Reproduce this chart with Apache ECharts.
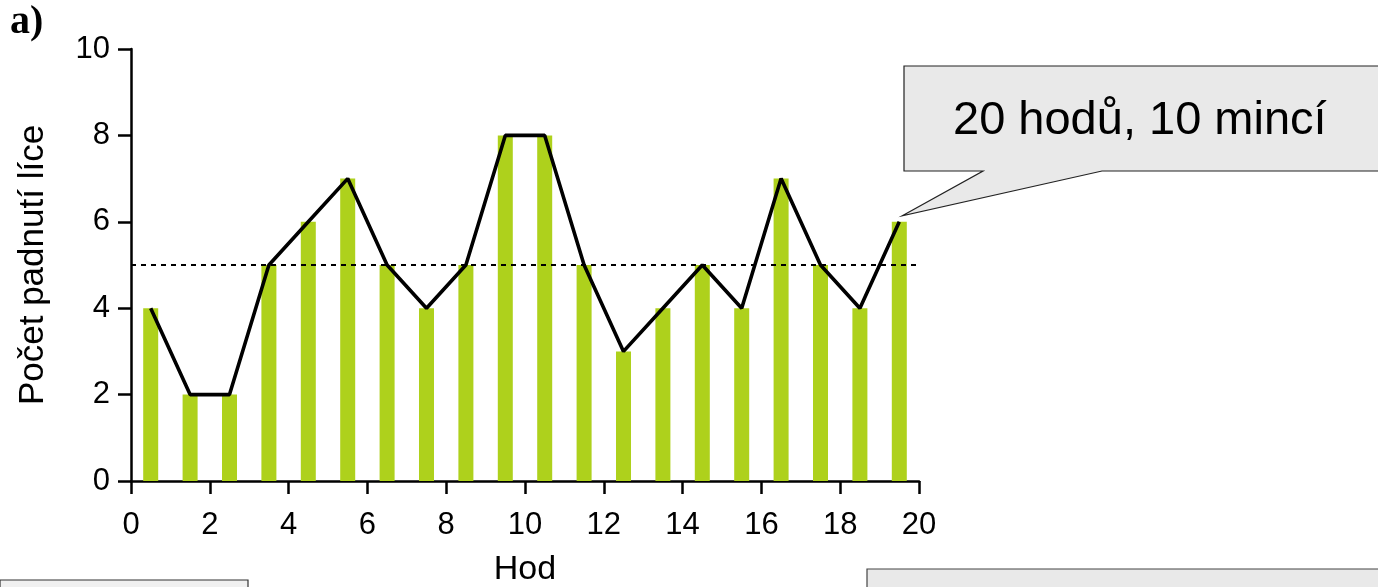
<!DOCTYPE html>
<html>
<head>
<meta charset="utf-8">
<script src="https://cdn.jsdelivr.net/npm/echarts@6/dist/echarts.min.js"></script>
<style>
html,body{margin:0;padding:0;background:#ffffff;}
#c{width:1378px;height:587px;}
</style>
</head>
<body>
<div id="c"></div>
<script>
// Data
const throwPositions = [0.5,1.5,2.5,3.5,4.5,5.5,6.5,7.5,8.5,9.5,10.5,11.5,12.5,13.5,14.5,15.5,16.5,17.5,18.5,19.5];
const headsCount = [4,2,2,5,6,7,5,4,5,8,8,5,3,4,5,4,7,5,4,6];
const expectedValue = 5;
const xTicks = [0,2,4,6,8,10,12,14,16,18,20];
const yTicks = [0,2,4,6,8,10];
const panelLabel = 'a)';
const xName = 'Hod';
const yName = 'Počet padnutí líce';
const calloutText = '20 hodů, 10 mincí';

const pts = throwPositions.map((x,i)=>[x, headsCount[i]]);
const FONT = '"Liberation Sans", Arial, sans-serif';

const chart = echarts.init(document.getElementById('c'), null, {renderer:'canvas'});
const axisCommon = {
  axisLine:{show:true, lineStyle:{color:'#000', width:2.5}},
  axisTick:{show:true, length:13, lineStyle:{color:'#000', width:2.5}},
  splitLine:{show:false},
};
chart.setOption({
  animation:false,
  backgroundColor:'#ffffff',
  grid:{left:131, right:459, top:49, bottom:106, containLabel:false, outerBoundsMode:'none'},
  xAxis:Object.assign({
    type:'value', min:xTicks[0], max:xTicks[xTicks.length-1], interval:2,
    name:xName, nameLocation:'middle', nameGap:72,
    nameTextStyle:{fontFamily:FONT, fontSize:34, color:'#000'},
    axisLabel:{fontFamily:FONT, fontSize:31, color:'#000', margin:29},
  }, axisCommon),
  yAxis:Object.assign({
    type:'value', min:yTicks[0], max:yTicks[yTicks.length-1], interval:2,
    name:yName, nameLocation:'middle', nameGap:80, nameRotate:90,
    nameTextStyle:{fontFamily:FONT, fontSize:35, color:'#000'},
    axisLabel:{fontFamily:FONT, fontSize:31, color:'#000', margin:21},
  }, axisCommon),
  series:[
    {
      type:'bar', data:pts, barWidth:15,
      itemStyle:{color:'#aed11c'},
      markLine:{
        silent:true, symbol:'none', label:{show:false},
        lineStyle:{color:'#000', type:[5,5], width:2},
        data:[{yAxis:expectedValue}]
      },
      z:2
    },
    {
      type:'line', data:pts, symbol:'none',
      lineStyle:{color:'#000', width:3.6},
      z:3
    }
  ]
});

// callout pointing to the last point
const last = chart.convertToPixel({gridIndex:0}, pts[pts.length-1]);
const tipX = last[0]+3, tipY = last[1]-6;
chart.setOption({
  graphic:[
    {type:'text', left:10, top:3, style:{text:panelLabel, font:'bold 40px "Liberation Serif", "Times New Roman", serif', fill:'#000'}},
    {type:'polygon', shape:{points:[[904,66],[1382,66],[1382,171],[1102,171],[tipX,tipY],[983,171],[904,171]]},
      style:{fill:'#e9e9e9', stroke:'#222', lineWidth:1.2}},
    {type:'text', x:953, y:121, style:{text:calloutText, font:'47px "Liberation Sans", Arial, sans-serif', fill:'#000', textVerticalAlign:'middle'}},
    {type:'rect', shape:{x:0, y:580, width:248, height:20}, style:{fill:'#f0f0f0', stroke:'#333', lineWidth:1.2}},
    {type:'rect', shape:{x:867, y:569, width:520, height:30}, style:{fill:'#e9e9e9', stroke:'#444', lineWidth:1.2}}
  ]
});
</script>
</body>
</html>
